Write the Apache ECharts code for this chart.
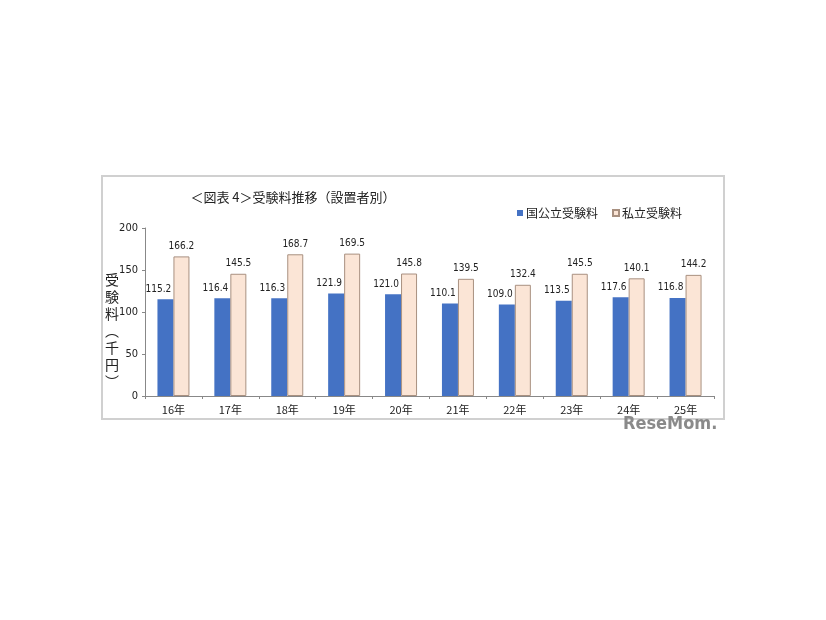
<!DOCTYPE html>
<html><head><meta charset="utf-8">
<script src="https://cdn.jsdelivr.net/npm/echarts@6/dist/echarts.min.js"></script>
<style>html,body{margin:0;padding:0;background:#fff;}#c{width:826px;height:620px;}</style>
</head><body><div id="c"></div>
<script>
const categories = ['16年','17年','18年','19年','20年','21年','22年','23年','24年','25年'];
const nationalFees = [115.2,116.4,116.3,121.9,121.0,110.1,109.0,113.5,117.6,116.8];
const privateFees = [166.2,145.5,168.7,169.5,145.8,139.5,132.4,145.5,140.1,144.2];
const yTicks = [0,50,100,150,200];
const seriesNames = ['国公立受験料','私立受験料'];

const chart = echarts.init(document.getElementById('c'));
const font = '"Noto Sans CJK JP", "Noto Sans", sans-serif';
chart.setOption({
  animation:false,
  backgroundColor:'#fff',
  title:{text:'＜図表 4＞受験料推移（設置者別）', left:288, top:186, textAlign:'center',
    textStyle:{fontFamily:font, fontSize:13, fontWeight:'normal', color:'#222'}},
  legend:{data:seriesNames, left:512, top:202, icon:'rect', itemWidth:6, itemHeight:6, itemGap:14,
    textStyle:{fontFamily:font, fontSize:12, color:'#222', padding:[0,0,0,-2]}},
  grid:{left:145, right:112, top:228, bottom:224},
  xAxis:{type:'category', data:categories,
    axisLine:{lineStyle:{color:'#888'}},
    axisTick:{show:true, length:3, lineStyle:{color:'#888'}},
    axisLabel:{fontFamily:font, fontSize:11, color:'#222', margin:8}},
  yAxis:{type:'value', min:yTicks[0], max:yTicks[yTicks.length-1], interval:50,
    axisLine:{show:true, lineStyle:{color:'#888'}},
    axisTick:{show:true, length:3, lineStyle:{color:'#888'}},
    splitLine:{show:false},
    axisLabel:{fontFamily:'"DejaVu Sans Condensed", sans-serif', fontSize:11, color:'#222', margin:7}},
  graphic:[
    {type:'rect', shape:{x:102, y:176, width:622, height:243}, style:{fill:'none', stroke:'#d0d0d0', lineWidth:2}, z:-1},
    {type:'text', left:105, top:271, style:{text:'受\n験\n料\n︵\n千\n円\n︶', font:'14px "Noto Sans CJK JP"', fill:'#222', lineHeight:17}},
    {type:'text', left:623, top:415, style:{text:'ReseMom.', font:'bold 18px "DejaVu Sans Condensed", sans-serif', fill:'#8a8a8a'}}
  ],
  series:[
    {name:seriesNames[0], type:'bar', data:nationalFees, barWidth:16, barGap:'0%',
      itemStyle:{color:'#4472C4'},
      label:{show:true, position:'top', distance:5, offset:[-7,0], formatter:p=>p.value.toFixed(1),
        fontFamily:'"DejaVu Sans Condensed", sans-serif', fontSize:10, color:'#222'}},
    {name:seriesNames[1], type:'bar', data:privateFees, barWidth:16,
      itemStyle:{color:'#FBE5D6', borderColor:'#a89080', borderWidth:1},
      label:{show:true, position:'top', distance:5, formatter:p=>p.value.toFixed(1),
        fontFamily:'"DejaVu Sans Condensed", sans-serif', fontSize:10, color:'#222'}}
  ]
});
</script></body></html>
